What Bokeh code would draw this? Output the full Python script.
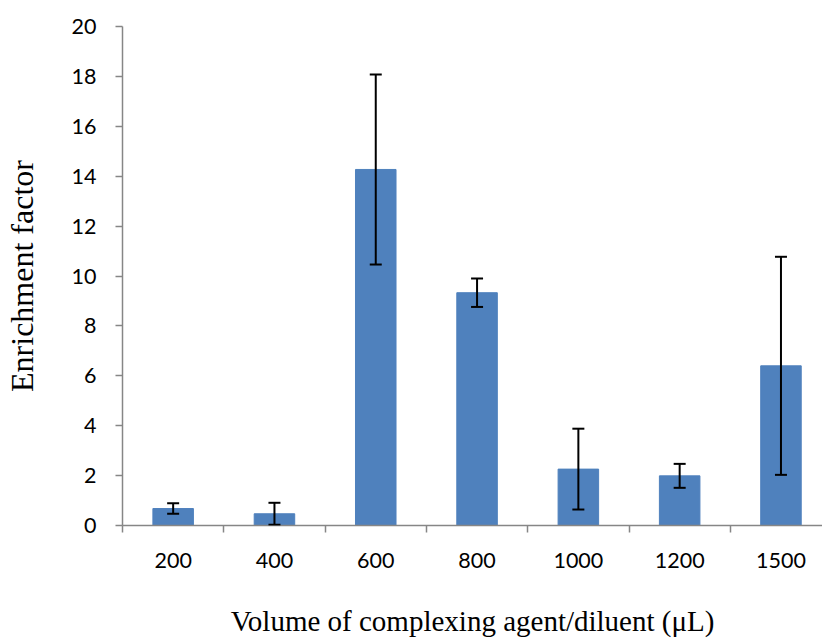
from bokeh.plotting import figure
from bokeh.models import ColumnDataSource, Whisker, TeeHead, FixedTicker, Range1d
from bokeh.embed import file_html
from bokeh.resources import INLINE

volumes = ["200", "400", "600", "800", "1000", "1200", "1500"]
enrichment = [0.68, 0.47, 14.27, 9.33, 2.26, 1.99, 6.40]
error = [0.21, 0.44, 3.81, 0.57, 1.62, 0.48, 4.37]
y_ticks = [0, 2, 4, 6, 8, 10, 12, 14, 16, 18, 20]

xs = list(range(len(volumes)))
src = ColumnDataSource(dict(
    x=xs,
    y=enrichment,
    upper=[v + e for v, e in zip(enrichment, error)],
    lower=[v - e for v, e in zip(enrichment, error)],
))

p = figure(width=822, height=639, output_backend="svg", toolbar_location=None,
           x_range=Range1d(-0.5, len(volumes) - 0.59), y_range=Range1d(0, 20),
           min_border_left=122, min_border_top=26, min_border_bottom=114,
           min_border_right=0)
p.outline_line_color = None
p.grid.visible = False

p.vbar(x="x", top="y", width=0.4, source=src, fill_color="#4F81BD",
       line_color="#4F81BD")

w = Whisker(base="x", upper="upper", lower="lower", source=src,
            line_color="black", line_width=2, level="overlay",
            upper_head=TeeHead(size=12, line_width=2, line_color="black"),
            lower_head=TeeHead(size=12, line_width=2, line_color="black"))
p.add_layout(w)

axis_gray = "#868686"
xa = p.xaxis[0]
xa.ticker = FixedTicker(ticks=xs, minor_ticks=[i - 0.5 for i in range(len(volumes) + 1)])
xa.major_label_overrides = {i: v for i, v in enumerate(volumes)}
xa.major_tick_out = 0
xa.major_tick_in = 0
xa.minor_tick_out = 7
xa.minor_tick_in = 0
xa.minor_tick_line_color = axis_gray
xa.axis_line_color = axis_gray
xa.axis_line_width = 1.5
xa.minor_tick_line_width = 1.5
xa.major_label_text_font = "Lato"
xa.major_label_text_font_size = "21.5px"
xa.major_label_text_color = "black"
xa.major_label_standoff = 20
xa.axis_label = "Volume of complexing agent/diluent (\u03bcL)"
xa.axis_label_text_font = "Liberation Serif"
xa.axis_label_text_font_size = "29px"
xa.axis_label_text_font_style = "normal"
xa.axis_label_text_color = "black"
xa.axis_label_standoff = 34

ya = p.yaxis[0]
ya.ticker = FixedTicker(ticks=y_ticks)
ya.minor_tick_line_color = None
ya.major_tick_out = 7
ya.major_tick_in = 0
ya.major_tick_line_color = axis_gray
ya.major_tick_line_width = 1.5
ya.axis_line_color = axis_gray
ya.axis_line_width = 1.5
ya.major_label_text_font = "Lato"
ya.major_label_text_font_size = "21.5px"
ya.major_label_text_color = "black"
ya.major_label_standoff = 19
ya.axis_label = "Enrichment factor"
ya.axis_label_text_font = "Liberation Serif"
ya.axis_label_text_font_size = "32px"
ya.axis_label_text_font_style = "normal"
ya.axis_label_text_color = "black"
ya.axis_label_standoff = 29

open("out.html", "w").write(file_html(p, INLINE))
